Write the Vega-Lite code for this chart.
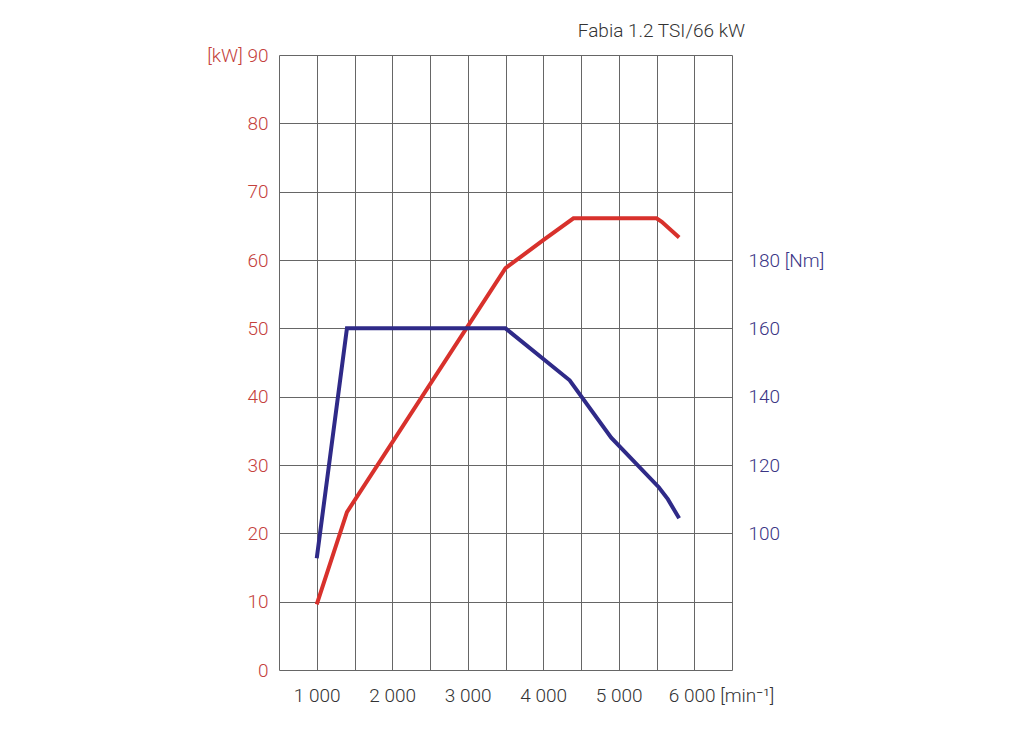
{
  "$schema": "https://vega.github.io/schema/vega-lite/v6.json",
  "autosize": "none",
  "width": 453,
  "height": 615,
  "padding": {"left": 279, "top": 55, "right": 292, "bottom": 70},
  "background": "white",
  "title": {
    "text": "Fabia 1.2 TSI/66 kW",
    "anchor": "end",
    "frame": "group",
    "dx": 13,
    "offset": 5,
    "font": "Roboto",
    "fontSize": 19,
    "fontWeight": 300,
    "color": "#333333"
  },
  "datasets": {
    "power": [
      {"rpm": 1000, "kW": 9.6},
      {"rpm": 1400, "kW": 23.1},
      {"rpm": 3500, "kW": 58.8},
      {"rpm": 4000, "kW": 62.9},
      {"rpm": 4400, "kW": 66.1},
      {"rpm": 5500, "kW": 66.1},
      {"rpm": 5570, "kW": 65.6},
      {"rpm": 5800, "kW": 63.3}
    ],
    "torque": [
      {"rpm": 1000, "Nm": 92.7},
      {"rpm": 1400, "Nm": 160},
      {"rpm": 3500, "Nm": 160},
      {"rpm": 4350, "Nm": 144.8},
      {"rpm": 4900, "Nm": 128},
      {"rpm": 5530, "Nm": 113.5},
      {"rpm": 5650, "Nm": 110},
      {"rpm": 5800, "Nm": 104.4}
    ]
  },
  "encoding": {
    "x": {
      "field": "rpm",
      "type": "quantitative",
      "scale": {"domain": [500, 6500], "nice": false},
      "axis": {
        "title": null,
        "values": [500, 1000, 1500, 2000, 2500, 3000, 3500, 4000, 4500, 5000, 5500, 6000, 6500],
        "labelExpr": "datum.value % 1000 == 0 ? (datum.value == 6000 ? '6 000 [min⁻¹]' : floor(datum.value / 1000) + ' 000') : ''",
        "labelAlign": {"condition": {"test": "datum.value == 6000", "value": "left"}, "value": "center"},
        "labelOffset": {"condition": {"test": "datum.value == 6000", "value": -26}, "value": 0},
        "labelPadding": 16,
        "labelColor": "#333333",
        "labelFont": "Roboto",
        "labelFontSize": 19,
        "labelFontWeight": 300,
        "labelOverlap": false,
        "ticks": false,
        "domain": false,
        "grid": true,
        "gridColor": "#666666",
        "gridWidth": 1,
        "gridOpacity": 1
      }
    }
  },
  "layer": [
    {
      "data": {"name": "power"},
      "mark": {"type": "line", "color": "#d8312c", "strokeWidth": 4},
      "encoding": {
        "y": {
          "field": "kW",
          "type": "quantitative",
          "scale": {"domain": [0, 90], "nice": false},
          "axis": {
            "title": null,
            "values": [0, 10, 20, 30, 40, 50, 60, 70, 80, 90],
            "labelExpr": "datum.value == 90 ? '[kW] 90' : datum.label",
            "labelPadding": 11,
            "labelColor": "#c4413c",
            "labelFont": "Roboto",
            "labelFontSize": 19,
            "labelFontWeight": 300,
            "ticks": false,
            "domain": false,
            "grid": true,
            "gridColor": "#666666",
            "gridWidth": 1,
            "gridOpacity": 1
          }
        }
      }
    },
    {
      "data": {"name": "torque"},
      "mark": {"type": "line", "color": "#2f2a88", "strokeWidth": 4},
      "encoding": {
        "y": {
          "field": "Nm",
          "type": "quantitative",
          "scale": {"domain": [60, 240], "nice": false},
          "axis": {
            "orient": "right",
            "title": null,
            "values": [100, 120, 140, 160, 180],
            "labelExpr": "datum.value == 180 ? '180 [Nm]' : datum.label",
            "labelPadding": 16,
            "labelColor": "#3a3585",
            "labelFont": "Roboto",
            "labelFontSize": 19,
            "labelFontWeight": 300,
            "ticks": false,
            "domain": false,
            "grid": false
          }
        }
      }
    }
  ],
  "resolve": {"scale": {"y": "independent"}},
  "config": {
    "view": {"stroke": null}
  }
}
